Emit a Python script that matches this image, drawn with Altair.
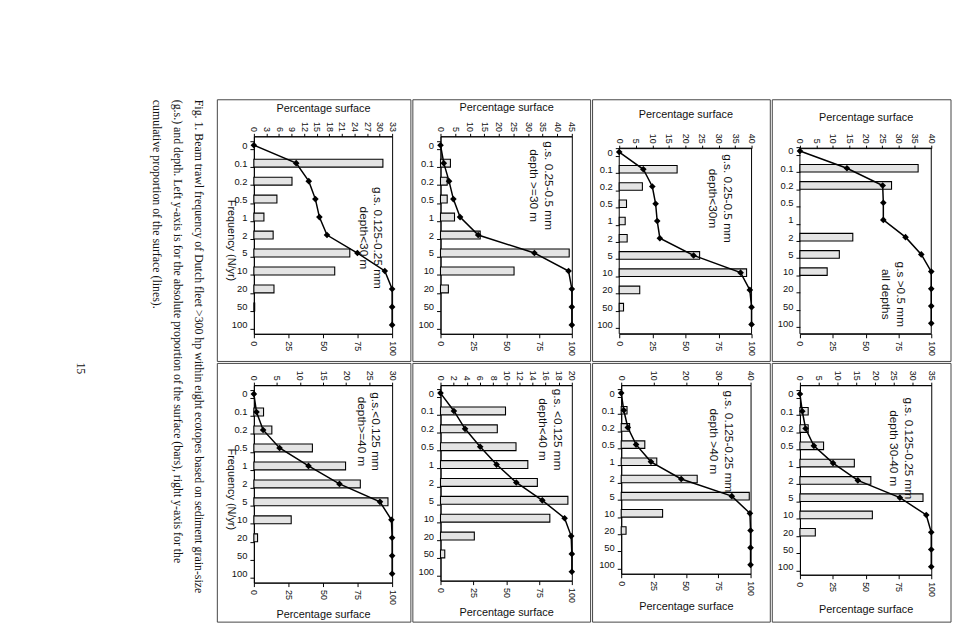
import altair as alt
import pandas as pd

categories = ["0", "0.1", "0.2", "0.5", "1", "2", "5", "10", "20", "50", "100"]
cum_ticks = [0, 25, 50, 75, 100]

caption_lines = [
    "Fig. 1. Beam trawl frequency of Dutch fleet >300 hp within eight ecotopes based on sediment grain-size",
    "(g.s.) and depth. Left y-axis is for the absolute proportion of the surface (bars), right y-axis for the",
    "cumulative proportion of the surface (lines).",
]
page_number = "15"

# bars: categories 0.1 .. 100 ; cum: categories 0 .. 100
p1_text = ["g.s. 0.125-0.25 mm", "depth<30 m"]
p1_bars = [30.8, 9.1, 5.5, 2.4, 4.6, 22.9, 19.3, 4.8, 0.2, 0.0]
p1_cum = [0, 30.6, 39.7, 44.5, 47.4, 52.9, 74.9, 94.7, 100, 100, 100]
p1_ticks = [0, 3, 6, 9, 12, 15, 18, 21, 24, 27, 30, 33]

p2_text = ["g.s. 0.25-0.5 mm", "depth >=30 m"]
p2_bars = [3.4, 2.3, 2.3, 4.8, 13.6, 44.1, 25.2, 2.7, 0.0, 0.0]
p2_cum = [0, 2.5, 6.5, 9.8, 14.9, 28.7, 71.5, 97.5, 100, 100, 100]
p2_ticks = [0, 5, 10, 15, 20, 25, 30, 35, 40, 45]

p3_text = ["g.s. 0.25-0.5 mm", "depth<30m"]
p3_bars = [17.5, 7.0, 2.2, 1.8, 2.4, 24.3, 38.5, 6.2, 1.3, 0.0]
p3_cum = [0, 18.2, 25.0, 27.5, 28.7, 30.7, 56.2, 91.7, 98.7, 100, 100]
p3_ticks = [0, 5, 10, 15, 20, 25, 30, 35, 40]

p4_text = ["g.s >0.5 mm", "all depths"]
p4_bars = [36.0, 27.9, 0.0, 0.0, 16.1, 12.0, 8.3, 0.0, 0.0, 0.0]
p4_cum = [0, 35.8, 63.0, 63.5, 63.5, 80.4, 92.4, 100, 100, 100, 100]
p4_ticks = [0, 5, 10, 15, 20, 25, 30, 35, 40]

p5_text = ["g.s.<0.125 mm", "depth>=40 m"]
p5_bars = [2.1, 3.9, 12.7, 19.9, 23.1, 29.1, 8.1, 0.8, 0.0, 0.0]
p5_cum = [0, 1.9, 6.7, 18.6, 39.5, 61.9, 91.2, 99.5, 100, 100, 100]
p5_ticks = [0, 5, 10, 15, 20, 25, 30]

p6_text = ["g.s. <0.125 mm", "depth<40 m"]
p6_bars = [9.9, 8.65, 11.5, 13.3, 14.75, 19.4, 16.65, 5.15, 0.65, 0.0]
p6_cum = [0, 10.2, 18.7, 30.2, 42.7, 57.7, 77.5, 94.5, 99.5, 100, 100]
p6_ticks = [0, 2, 4, 6, 8, 10, 12, 14, 16, 18, 20]

p7_text = ["g.s. 0.125-0.25 mm", "depth >40 m"]
p7_bars = [1.8, 2.6, 7.3, 11.0, 23.5, 39.6, 12.8, 1.5, 0.0, 0.0]
p7_cum = [0, 2.0, 5.1, 11.5, 23.0, 46.4, 85.5, 99.5, 100, 100, 100]
p7_ticks = [0, 10, 20, 30, 40]

p8_text = ["g.s. 0.125-0.25 mm", "depth 30-40 m"]
p8_bars = [2.2, 2.2, 6.3, 14.5, 18.9, 32.8, 19.3, 4.1, 0.0, 0.0]
p8_cum = [0, 1.8, 4.3, 10.6, 25.2, 44.1, 76.1, 96.2, 100, 100, 100]
p8_ticks = [0, 5, 10, 15, 20, 25, 30, 35]

SANS = "Liberation Sans"
SERIF = "Liberation Serif"
INK = "#111111"

# layout (styling only). All panels of a row share the plot origin; "drop" lowers the top frame/axis.
layouts = [
    dict(w=140, h=200, cell=(-37, -37, 159, 228), po=0.275, al=0.5, ann=(131, 103), top=True, ty=-28, freq=105, drop=0),
    dict(w=133, h=200, cell=(-28, -37, 152, 228), po=0.275, al=0.5, ann=(115, 50), top=True, ty=-29, freq=None, drop=0),
    dict(w=134, h=200, cell=(-27, -37, 153, 228), po=0.51, al=0.68, ann=(115, 63), top=True, ty=-34, freq=None, drop=12),
    dict(w=133, h=200, cell=(-28, -37, 153, 228), po=0.51, al=0.62, ann=(107, 160), top=True, ty=-31, freq=None, drop=12),
    dict(w=140, h=200, cell=(-37, -22, 159, 240), po=0.275, al=0.5, ann=(129, 47), top=False, ty=32, freq=105, drop=0),
    dict(w=133, h=198, cell=(-28, -22, 152, 240), po=0.25, al=0.45, ann=(124, 45), top=False, ty=32, freq=None, drop=0),
    dict(w=131, h=191, cell=(-29, -22, 151, 240), po=0.27, al=0.45, ann=(114, 57), top=False, ty=33, freq=None, drop=0),
    dict(w=133, h=192, cell=(-28, -22, 153, 240), po=0.265, al=0.55, ann=(115, 64), top=False, ty=35, freq=None, drop=0),
]

panels_data = [
    (p1_text, p1_bars, p1_cum, p1_ticks),
    (p2_text, p2_bars, p2_cum, p2_ticks),
    (p3_text, p3_bars, p3_cum, p3_ticks),
    (p4_text, p4_bars, p4_cum, p4_ticks),
    (p5_text, p5_bars, p5_cum, p5_ticks),
    (p6_text, p6_bars, p6_cum, p6_ticks),
    (p7_text, p7_bars, p7_cum, p7_ticks),
    (p8_text, p8_bars, p8_cum, p8_ticks),
]


def panel(text, bars, cum, ticks, L):
    df = pd.DataFrame({
        "cat": categories,
        "idx": list(range(len(categories))),
        "pct": [0.0] + list(bars),
        "cum": cum,
    })
    one = pd.DataFrame({"k": [0]})
    drop = L["drop"]
    ysc = alt.Scale(domain=categories, paddingInner=0.56, paddingOuter=L["po"], align=L["al"])
    common_y = dict(labelAngle=0, tickBand="extent", tickSize=4, labelPadding=3, labelFontSize=9.5,
                    domain=(drop == 0))
    if L["freq"] is not None:
        yaxis = alt.Axis(title="Frequency (N/yr)", titleAngle=90, titleX=-24, titleY=L["freq"],
                         titleAlign="center", titleBaseline="middle", titleFontSize=11, **common_y)
    else:
        yaxis = alt.Axis(title=None, **common_y)
    yenc = alt.Y("cat:N", scale=ysc, sort=categories, axis=yaxis)

    lab = dict(labelAngle=90, labelBaseline="middle", labelFontSize=9, labelOverlap=False, labelFlush=False)
    if L["top"]:
        pct_axis = alt.Axis(orient="top", values=ticks, title="Percentage surface", titleY=L["ty"],
                            titleBaseline="middle", labelAlign="right", tickSize=3, labelPadding=2,
                            offset=-drop, **lab)
        cum_axis = alt.Axis(orient="bottom", values=cum_ticks, title=None, labelAlign="left",
                            tickSize=4, labelPadding=3, **lab)
    else:
        pct_axis = alt.Axis(orient="top", values=ticks, title=None, labelAlign="right",
                            tickSize=3, labelPadding=2, offset=-drop, **lab)
        cum_axis = alt.Axis(orient="bottom", values=cum_ticks, title="Percentage surface", titleY=L["ty"],
                            titleBaseline="middle", labelAlign="left", tickSize=4, labelPadding=3, **lab)

    cx1, cy1, cx2, cy2 = L["cell"]
    cell = alt.Chart(one).mark_rect(fill="transparent", stroke="#444444", strokeWidth=1).encode(
        x=alt.value(cx1), x2=alt.value(cx2), y=alt.value(cy1), y2=alt.value(cy2))
    layers = [cell]
    if drop:
        frame = alt.Chart(one).mark_rect(fill="transparent", stroke="black", strokeWidth=1).encode(
            x=alt.value(0), x2=alt.value(L["w"]), y=alt.value(drop), y2=alt.value(L["h"]))
        layers.append(frame)

    base = alt.Chart(df)
    bar = base.mark_bar(fill="#e4e4e4", stroke="black", strokeWidth=1.1).encode(
        x=alt.X("pct:Q", scale=alt.Scale(domain=[0, ticks[-1]], nice=False, zero=True), axis=pct_axis),
        y=yenc,
    ).transform_filter("datum.pct > 0")
    line = base.mark_line(color="black", strokeWidth=1.5).encode(
        x=alt.X("cum:Q", scale=alt.Scale(domain=[0, 100], nice=False), axis=cum_axis),
        y=yenc,
        order=alt.Order("idx:Q"),
    )
    pts = base.mark_point(shape="diamond", filled=True, color="black", size=45, opacity=1).encode(
        x=alt.X("cum:Q", scale=alt.Scale(domain=[0, 100], nice=False), axis=None),
        y=yenc,
    )
    ax, ay = L["ann"]
    ann = alt.Chart(one).mark_text(text=text, angle=90, align="center", baseline="top", fontSize=12,
                                   lineHeight=15, font=SANS, color=INK).encode(
        x=alt.value(ax), y=alt.value(ay))
    layers += [bar, line, pts, ann]
    props = dict(width=L["w"], height=L["h"])
    if drop:
        props["view"] = alt.ViewBackground(stroke="transparent")
    return alt.layer(*layers).resolve_scale(x="independent").properties(**props)


charts = [panel(*d, L) for d, L in zip(panels_data, layouts)]
row1 = alt.hconcat(*charts[:4], spacing=0)
row2 = alt.hconcat(*charts[4:], spacing=0)
grid = alt.vconcat(row1, row2, spacing=0)

one = pd.DataFrame({"k": [0]})
cap = alt.Chart(one).mark_text(text=caption_lines, angle=90, align="left", baseline="top", fontSize=12,
                               lineHeight=21, font=SERIF, color=INK).encode(
    x=alt.value(136), y=alt.value(-37))
pno = alt.Chart(one).mark_text(text=page_number, angle=90, align="center", baseline="middle", fontSize=12,
                               font=SERIF, color=INK).encode(x=alt.value(12), y=alt.value(235))
caption = alt.layer(pno, cap).properties(width=140, height=200, view=alt.ViewBackground(stroke="transparent"))

chart = alt.hconcat(caption, grid, spacing=8).properties(
    padding={"left": 61, "top": 88, "right": 0, "bottom": 0},
    background="white",
).configure_axis(
    labelFont=SANS, titleFont=SANS, labelColor=INK, titleColor=INK, domainColor="black",
    tickColor="black", grid=False, titleFontWeight="normal", titleFontSize=11,
).configure_view(stroke="black", strokeWidth=1)

chart.save("out.html", embed_options={"renderer": "svg", "actions": False})
